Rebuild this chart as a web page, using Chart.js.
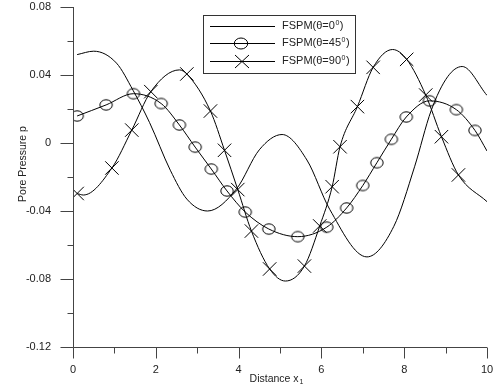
<!DOCTYPE html>
<html>
<head>
<meta charset="utf-8">
<script src="https://cdn.jsdelivr.net/npm/chart.js@4.4.1/dist/chart.umd.min.js"></script>
<style>
  html, body { margin: 0; padding: 0; background: #fff; }
</style>
</head>
<body>
<canvas id="chart" width="494" height="391"></canvas>
<script>
// pore pressure along x1, three loading angles
const plainX = [0.1, 0.5, 1.05, 1.45, 1.85, 2.35, 2.75, 3.25, 3.95, 4.5, 5.05, 5.65, 6.2, 7.1, 7.75, 8.25, 8.65, 9.05, 9.4, 10];
const plainP = [0.052, 0.054, 0.047, 0.031, 0.012, -0.016, -0.033, -0.040, -0.027, -0.004, 0.005, -0.010, -0.039, -0.067, -0.049, -0.014, 0.019, 0.039, 0.045, 0.028];

const circleX = [0.1, 0.8, 1.46, 2.13, 2.57, 2.95, 3.34, 3.72, 4.16, 4.73, 5.43, 6.13, 6.61, 7.0, 7.34, 7.69, 8.05, 8.61, 9.26, 9.71, 10];
const circleP = [0.0159, 0.0224, 0.029, 0.0232, 0.0106, -0.0024, -0.0153, -0.0282, -0.0406, -0.0506, -0.0551, -0.0495, -0.0382, -0.025, -0.0116, 0.0022, 0.0153, 0.0248, 0.0196, 0.0074, -0.0047];
const circleMark = [1, 1, 1, 1, 1, 1, 1, 1, 1, 1, 1, 1, 1, 1, 1, 1, 1, 1, 1, 1, 0];

const crossX = [0.1, 0.25, 0.94, 1.42, 1.88, 2.57, 2.75, 3.32, 3.66, 3.98, 4.31, 4.75, 5.13, 5.59, 5.96, 6.26, 6.45, 6.87, 7.25, 7.72, 8.06, 8.52, 8.9, 9.31, 10];
const crossP = [-0.0297, -0.0306, -0.0147, 0.0076, 0.0302, 0.043, 0.0406, 0.0188, -0.0043, -0.0274, -0.0518, -0.0741, -0.0812, -0.0724, -0.0488, -0.0257, -0.0022, 0.0214, 0.0445, 0.055, 0.0492, 0.0282, 0.0037, -0.0188, -0.0345];
const crossMark = [1, 0, 1, 1, 1, 0, 1, 1, 1, 1, 1, 1, 0, 1, 1, 1, 1, 1, 1, 0, 1, 1, 1, 1, 0];

const seriesNames = ['FSPM(\u03b8=0', 'FSPM(\u03b8=45', 'FSPM(\u03b8=90'];

const FONT = '"Liberation Sans", Arial, sans-serif';

function toPoints(xs, ys) {
    return xs.map((x, i) => ({ x: x, y: ys[i] }));
}

// hollow ellipse used as the circle marker
function ellipseMarker(rx, ry) {
    const c = document.createElement('canvas');
    c.width = Math.ceil(rx * 2 + 3);
    c.height = Math.ceil(ry * 2 + 3);
    const g = c.getContext('2d');
    g.strokeStyle = '#000';
    g.lineWidth = 1;
    g.beginPath();
    g.ellipse(c.width / 2, c.height / 2, rx, ry, 0, 0, Math.PI * 2);
    g.stroke();
    return c;
}

const isMajorY = v => Math.abs(Math.round(v * 100)) % 4 === 0;
const isMajorX = v => Math.round(v) % 2 === 0;

// axis lines, outward ticks, axis titles and the boxed legend
const decorations = {
    id: 'decorations',
    afterDraw(chart) {
        const { ctx, chartArea: a, scales } = chart;
        const xs = scales.x, ys = scales.y;
        ctx.save();
        ctx.strokeStyle = '#444';
        ctx.lineWidth = 1;
        ctx.beginPath();
        const left = Math.round(a.left) + 0.5;
        const bottom = Math.round(a.bottom) + 0.5;
        ctx.moveTo(left, a.top);
        ctx.lineTo(left, bottom);
        ctx.moveTo(left, bottom);
        ctx.lineTo(a.right, bottom);
        ys.ticks.forEach(t => {
            const py = Math.round(ys.getPixelForValue(t.value)) + 0.5;
            const len = isMajorY(t.value) ? 13 : 6;
            ctx.moveTo(left - len, py);
            ctx.lineTo(left, py);
        });
        xs.ticks.forEach(t => {
            const px = Math.round(xs.getPixelForValue(t.value)) + 0.5;
            const len = isMajorX(t.value) ? 11 : 6;
            ctx.moveTo(px, bottom);
            ctx.lineTo(px, bottom + len);
        });
        ctx.stroke();

        // axis titles
        ctx.fillStyle = '#222';
        ctx.textBaseline = 'middle';
        const main = 'Distance x';
        ctx.font = '10.5px ' + FONT;
        const w1 = ctx.measureText(main).width;
        ctx.font = '7px ' + FONT;
        const w2 = ctx.measureText('1').width;
        const tx = 276.5 - (w1 + w2 + 1) / 2;
        ctx.font = '10.5px ' + FONT;
        ctx.textAlign = 'left';
        ctx.fillText(main, tx, 379.5);
        ctx.font = '7px ' + FONT;
        ctx.fillText('1', tx + w1 + 1, 382.5);

        ctx.save();
        ctx.translate(23, 164);
        ctx.rotate(-Math.PI / 2);
        ctx.font = '10.5px ' + FONT;
        ctx.textAlign = 'center';
        ctx.fillText('Pore Pressure p', 0, 0);
        ctx.restore();

        // legend box
        ctx.strokeStyle = '#333';
        ctx.strokeRect(203.5, 15.5, 152, 58);
        const rows = [26, 43, 61];
        ctx.strokeStyle = '#000';
        rows.forEach((ry, i) => {
            const yy = Math.round(ry) + 0.5;
            ctx.beginPath();
            ctx.moveTo(210, yy);
            ctx.lineTo(275, yy);
            ctx.stroke();
            if (i === 1) {
                ctx.beginPath();
                ctx.ellipse(241, yy, 6.7, 5.5, 0, 0, Math.PI * 2);
                ctx.stroke();
            } else if (i === 2) {
                ctx.beginPath();
                ctx.moveTo(235, yy - 6.5); ctx.lineTo(249, yy + 6.5);
                ctx.moveTo(249, yy - 6.5); ctx.lineTo(235, yy + 6.5);
                ctx.stroke();
            }
            ctx.textAlign = 'left';
            ctx.font = '11px ' + FONT;
            let x = 282;
            ctx.fillText(seriesNames[i], x, ry);
            x += ctx.measureText(seriesNames[i]).width;
            ctx.font = '7px ' + FONT;
            ctx.fillText('0', x + 0.5, ry - 3);
            x += ctx.measureText('0').width + 1;
            ctx.font = '11px ' + FONT;
            ctx.fillText(')', x, ry);
        });
        ctx.restore();
    }
};

const circleImg = ellipseMarker(6.2, 5.2);

new Chart(document.getElementById('chart'), {
    type: 'line',
    data: {
        datasets: [
            {
                label: 'theta 0',
                data: toPoints(plainX, plainP),
                borderColor: '#000',
                borderWidth: 1,
                pointRadius: 0,
                cubicInterpolationMode: 'monotone',
                fill: false
            },
            {
                label: 'theta 45',
                data: toPoints(circleX, circleP),
                borderColor: '#000',
                borderWidth: 1,
                pointStyle: circleImg,
                pointBackgroundColor: 'rgba(0,0,0,0)',
                pointRadius: circleMark.map(m => m ? 6 : 0),
                cubicInterpolationMode: 'monotone',
                fill: false
            },
            {
                label: 'theta 90',
                data: toPoints(crossX, crossP),
                borderColor: '#000',
                borderWidth: 1,
                pointStyle: 'crossRot',
                pointBorderColor: '#000',
                pointBorderWidth: 1,
                pointRadius: crossMark.map(m => m ? 9.5 : 0),
                cubicInterpolationMode: 'monotone',
                fill: false
            }
        ]
    },
    options: {
        responsive: false,
        animation: false,
        layout: { autoPadding: false, padding: { top: 7, right: 7, left: 0, bottom: 0 } },
        plugins: {
            legend: { display: false },
            tooltip: { enabled: false }
        },
        scales: {
            x: {
                type: 'linear',
                min: 0,
                max: 10,
                grid: { display: false, drawTicks: false },
                border: { display: false },
                ticks: {
                    stepSize: 1,
                    padding: 16,
                    maxRotation: 0,
                    autoSkip: false,
                    color: '#222',
                    font: { family: FONT, size: 11 },
                    callback: v => isMajorX(v) ? String(Math.round(v)) : ''
                },
                afterFit: s => {
                    s.height = 44;
                    s.paddingLeft = 0;
                    s.paddingRight = 0;
                }
            },
            y: {
                min: -0.12,
                max: 0.08,
                grid: { display: false, drawTicks: false },
                border: { display: false },
                ticks: {
                    stepSize: 0.02,
                    padding: 22,
                    autoSkip: false,
                    color: '#222',
                    font: { family: FONT, size: 11 },
                    callback: v => {
                        if (!isMajorY(v)) return '';
                        const r = Math.round(v * 100) / 100;
                        return r === 0 ? '0' : r.toFixed(2);
                    }
                },
                afterFit: s => {
                    s.width = 73;
                    s.paddingTop = 0;
                    s.paddingBottom = 0;
                }
            }
        }
    },
    plugins: [decorations]
});
</script>
</body>
</html>
